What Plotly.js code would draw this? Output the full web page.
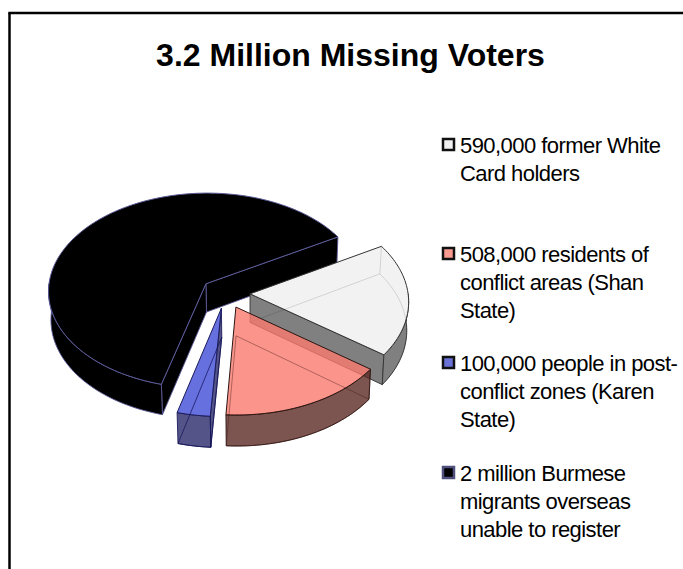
<!DOCTYPE html>
<html>
<head>
<meta charset="utf-8">
<title>3.2 Million Missing Voters</title>
<script src="https://cdn.plot.ly/plotly-3.0.1.min.js"></script>
<style>
  html, body { margin: 0; padding: 0; background: #fff; overflow: hidden; }
  #chart { width: 683px; height: 569px; }
  .annotation-text { letter-spacing: -0.55px; }
</style>
</head>
<body>
<div id="chart"></div>
<script>
// Voters missing from the rolls, by group
const groups = ["White Card", "Shan State", "Karen State", "Overseas"];
const voters = [590000, 508000, 100000, 2000000];
const legendLines = [
  ["590,000 former White", "Card holders"],
  ["508,000 residents of", "conflict areas (Shan", "State)"],
  ["100,000 people in post-", "conflict zones (Karen", "State)"],
  ["2 million Burmese", "migrants overseas", "unable to register"]
];
const legendRowY = [145, 254, 363, 473];
const paintOrder = [3, 0, 1, 2];

const topFill = ["#f2f2f2", "rgba(250,122,110,0.8)", "rgba(90,100,220,0.92)", "#000000"];
const sideFill = ["#808080", "rgba(92,42,36,0.8)", "rgba(60,60,120,0.88)", "#000000"];
const edgeColor = ["#333333", "#2a1512", "#1c1c5c", "#5a5a98"];
const innerEdge = ["rgba(0,0,0,0.13)", "rgba(60,20,15,0.4)", "rgba(20,20,90,0.75)", "rgba(0,0,0,0)"];
const swatchFill = ["#f2f2f2", "#fb9a90", "#6a72d8", "#000000"];
const swatchLine = ["#111111", "#111111", "#111111", "#50507f"];

// Tilted-disc view: a point in the pie plane (u right, v toward the viewer)
// is pushed through a mild perspective, z = 1 is the underside of the disc.
const view = { cx: 225.4, cy: 293, rx: 158, ry: 98.3, persp: 0.0705, depth: 28.5, vanishX: 250, shrink: 0.012 };
const firstAngle = 60;
const explode = 0.156;

function project(u, v, z) {
  const s = 1 / (1 - view.persp * v);
  const x = view.cx + view.rx * u * s;
  const y = view.cy + view.ry * v * s + z * view.depth * s;
  return [view.vanishX + (x - view.vanishX) * (1 - z * view.shrink), y];
}

const rad = d => d * Math.PI / 180;
const total = voters.reduce((a, b) => a + b, 0);

function sliceSpan(i) {
  let start = firstAngle;
  for (let k = 0; k < i; k++) start += voters[k] / total * 360;
  return [start, start + voters[i] / total * 360];
}

function arc(i, a0, a1, z) {
  const mid = sliceSpan(i).reduce((a, b) => a + b) / 2;
  const ox = explode * Math.sin(rad(mid)), oy = -explode * Math.cos(rad(mid));
  const pts = [];
  const n = Math.max(2, Math.ceil(Math.abs(a1 - a0) / 1.5));
  for (let k = 0; k <= n; k++) {
    const a = a0 + (a1 - a0) * k / n;
    pts.push(project(ox + Math.sin(rad(a)), oy - Math.cos(rad(a)), z));
  }
  return pts;
}

function apex(i, z) {
  const mid = sliceSpan(i).reduce((a, b) => a + b) / 2;
  return project(explode * Math.sin(rad(mid)), -explode * Math.cos(rad(mid)), z);
}

function polyTrace(name, pts, fill, line, width) {
  const closed = pts.concat([pts[0]]);
  return {
    type: "scatter", mode: "lines", name: name,
    x: closed.map(p => p[0]), y: closed.map(p => p[1]),
    fill: fill ? "toself" : "none", fillcolor: fill || "rgba(0,0,0,0)",
    line: { color: line, width: width, simplify: false },
    hoverinfo: "skip", showlegend: false
  };
}

const traces = [];
paintOrder.forEach(i => {
  const [a0, a1] = sliceSpan(i);
  const sides = [];
  // Radial wall on the closing edge, seen when it faces the viewer
  if (Math.sin(rad(a1)) > 0) {
    sides.push([apex(i, 0), arc(i, a1, a1, 0)[0], arc(i, a1, a1, 1)[0], apex(i, 1)]);
  }
  // Radial wall on the opening edge
  if (Math.sin(rad(a0)) < 0) {
    sides.push([apex(i, 0), arc(i, a0, a0, 0)[0], arc(i, a0, a0, 1)[0], apex(i, 1)]);
  }
  // Outer rim: only the near half of the disc is visible
  const r0 = Math.max(a0, 90), r1 = Math.min(a1, 270);
  if (r1 > r0) {
    sides.push(arc(i, r0, r1, 0).concat(arc(i, r0, r1, 1).reverse()));
  }
  sides.forEach(p => traces.push(polyTrace(groups[i] + " side", p, sideFill[i], edgeColor[i], 0.9)));

  // Top face
  const face = [apex(i, 0)].concat(arc(i, a0, a1, 0));
  traces.push(polyTrace(groups[i] + " top", face, topFill[i], edgeColor[i], 1));

  // Underside edges showing through the translucent top
  const under = [apex(i, 1)].concat(arc(i, a0, a1, 1));
  traces.push(polyTrace(groups[i] + " underside", under, null, innerEdge[i], 1));
  const back = [arc(i, a0, a0, 0)[0], arc(i, a0, a0, 1)[0]];
  traces.push({
    type: "scatter", mode: "lines", x: back.map(p => p[0]), y: back.map(p => p[1]),
    line: { color: innerEdge[i], width: 1 }, hoverinfo: "skip", showlegend: false
  });
});

// Legend swatches
traces.push({
  type: "scatter", mode: "markers",
  x: groups.map(() => 448.5), y: legendRowY.map(y => y - 0.5),
  marker: { symbol: "square", size: 11, color: swatchFill, line: { color: swatchLine, width: 2.5 } },
  hoverinfo: "skip", showlegend: false
});

const annotations = [];
legendLines.forEach((lines, r) => {
  lines.forEach((text, l) => {
    annotations.push({
      xref: "x", yref: "y", x: 457.5, y: legendRowY[r] + l * 28,
      text: text, showarrow: false, xanchor: "left", yanchor: "middle", align: "left",
      font: { family: "Liberation Sans", size: 22, color: "#000" }
    });
  });
});

const layout = {
  width: 683, height: 569,
  margin: { l: 0, r: 0, t: 0, b: 0 },
  paper_bgcolor: "#fff", plot_bgcolor: "#fff",
  title: {
    text: "<b>3.2 Million Missing Voters</b>",
    font: { family: "Liberation Sans", size: 32, color: "#000" },
    x: 350.5 / 683, xanchor: "center", y: 1 - 55 / 569, yanchor: "middle"
  },
  xaxis: { range: [0, 683], visible: false, fixedrange: true },
  yaxis: { range: [569, 0], visible: false, fixedrange: true },
  shapes: [
    { type: "line", xref: "x", yref: "y", x0: 9.5, y0: 13, x1: 9.5, y1: 569, line: { color: "#000", width: 2.5 } },
    { type: "line", xref: "x", yref: "y", x0: 8.3, y0: 13, x1: 683, y1: 13, line: { color: "#000", width: 2.5 } }
  ],
  annotations: annotations,
  showlegend: false
};

Plotly.newPlot("chart", traces, layout, { displayModeBar: false, staticPlot: true });
</script>
</body>
</html>
